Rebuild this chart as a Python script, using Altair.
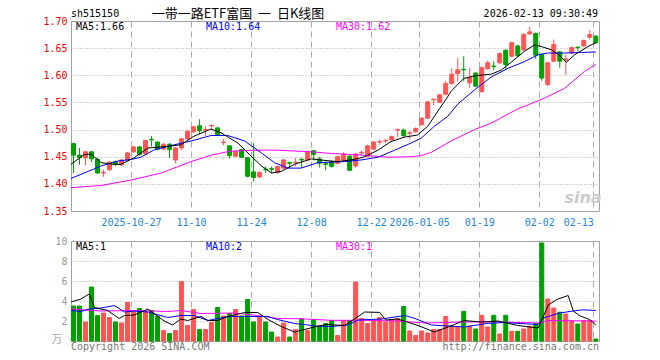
import altair as alt
import pandas as pd

# ---------------- data ----------------
opens = [1.474,1.453,1.448,1.459,1.445,1.420,1.426,1.441,1.435,1.444,
 1.459,1.468,1.455,1.482,1.477,1.464,1.473,1.444,1.466,1.483,
 1.496,1.507,1.499,1.507,1.503,1.476,1.470,1.451,1.463,1.448,
 1.422,1.413,1.427,1.428,1.421,1.429,1.439,1.439,1.445,1.444,
 1.461,1.446,1.437,1.441,1.438,1.444,1.451,1.433,1.457,1.451,
 1.464,1.477,1.479,1.481,1.499,1.499,1.493,1.496,1.509,1.521,
 1.555,1.550,1.565,1.585,1.603,1.611,1.586,1.604,1.570,1.612,
 1.617,1.623,1.646,1.635,1.654,1.647,1.676,1.677,1.638,1.583,
 1.626,1.643,1.628,1.641,1.652,1.654,1.670,1.672]
highs = [1.476,1.466,1.461,1.460,1.448,1.426,1.442,1.443,1.446,1.459,
 1.470,1.470,1.481,1.488,1.478,1.475,1.475,1.468,1.485,1.499,
 1.507,1.519,1.506,1.508,1.505,1.483,1.471,1.462,1.464,1.449,
 1.475,1.423,1.432,1.432,1.434,1.446,1.441,1.448,1.448,1.461,
 1.462,1.450,1.441,1.443,1.452,1.458,1.453,1.457,1.462,1.472,
 1.479,1.482,1.483,1.489,1.502,1.502,1.497,1.504,1.523,1.553,
 1.556,1.566,1.590,1.613,1.632,1.635,1.614,1.606,1.616,1.627,
 1.626,1.642,1.648,1.662,1.656,1.678,1.689,1.679,1.640,1.625,
 1.666,1.645,1.638,1.653,1.652,1.666,1.683,1.674]
lows = [1.420,1.435,1.434,1.440,1.418,1.413,1.424,1.433,1.433,1.443,
 1.457,1.452,1.454,1.469,1.462,1.462,1.448,1.438,1.462,1.481,
 1.494,1.491,1.488,1.500,1.489,1.471,1.447,1.449,1.448,1.412,
 1.405,1.410,1.420,1.419,1.418,1.427,1.429,1.432,1.429,1.443,
 1.443,1.430,1.425,1.430,1.436,1.442,1.424,1.429,1.453,1.449,
 1.462,1.472,1.475,1.480,1.486,1.486,1.482,1.494,1.507,1.519,
 1.545,1.549,1.563,1.583,1.589,1.589,1.577,1.578,1.568,1.610,
 1.609,1.621,1.610,1.633,1.634,1.645,1.675,1.630,1.590,1.580,
 1.624,1.614,1.601,1.639,1.644,1.652,1.666,1.658]
closes = [1.453,1.448,1.459,1.446,1.420,1.421,1.440,1.436,1.444,1.457,
 1.468,1.454,1.480,1.481,1.464,1.473,1.463,1.466,1.483,1.497,
 1.505,1.498,1.500,1.508,1.491,1.477,1.452,1.460,1.449,1.414,
 1.412,1.421,1.426,1.427,1.432,1.444,1.438,1.440,1.444,1.459,
 1.454,1.438,1.436,1.432,1.450,1.455,1.425,1.455,1.458,1.470,
 1.477,1.478,1.480,1.487,1.500,1.489,1.494,1.502,1.521,1.551,
 1.556,1.564,1.585,1.602,1.610,1.610,1.596,1.580,1.614,1.623,
 1.616,1.640,1.620,1.660,1.636,1.675,1.680,1.637,1.595,1.623,
 1.657,1.626,1.630,1.651,1.651,1.664,1.675,1.660]
vols = [3.5,3.5,1.9,5.4,2.55,2.8,2.35,1.9,1.8,3.85,
 3.05,3.25,2.95,3.05,2.45,1.05,0.75,1.05,5.95,1.55,
 3.15,1.15,1.15,1.85,3.35,2.5,2.75,3.15,2.5,4.15,
 1.9,2.45,1.9,0.9,0.4,1.8,0.4,1.15,2.2,1.05,
 2.15,1.5,1.75,2.05,0.55,2.05,2.05,5.9,2.25,1.75,
 2.05,2.35,1.9,2.15,2.25,3.45,1.0,0.55,1.0,0.8,
 1.15,1.15,2.45,1.5,1.45,2.97,1.5,1.2,2.57,1.4,
 2.57,0.7,2.57,0.97,0.97,1.2,1.47,1.74,9.8,4.2,
 3.3,2.88,2.7,2.0,1.7,2.05,2.05,0.2]

# moving-average lines (position index, value)
ma5_x = [-0.42,1.8,2.9,4.6,6.8,7.9,10.1,12.4,15.7,17.9,20.1,22.9,24.6,27.4,29.6,31.3,33.0,34.6,36.8,39.6,41.2,42.9,44.0,46.8,48.5,50.7,52.9,55.1,57.3,59.0,61.0,62.0,63.0,64.0,65.0,66.8,69.6,71.3,73.0,75.1,76.8,77.9,79.6,80.8,82.1,83.5,85.7,87.0]
ma5_y = [1.436,1.454,1.455,1.439,1.436,1.436,1.448,1.466,1.469,1.472,1.488,1.501,1.494,1.475,1.451,1.433,1.420,1.423,1.436,1.446,1.444,1.442,1.441,1.445,1.450,1.462,1.478,1.486,1.490,1.506,1.539,1.555,1.572,1.583,1.594,1.599,1.602,1.610,1.625,1.644,1.656,1.653,1.647,1.638,1.624,1.638,1.653,1.660]
ma10_x = [-0.42,1.8,4.6,7.4,9.6,11.2,13.5,16.8,19.6,22.9,25.7,28.5,31.3,33.5,35.7,37.9,40.7,42.9,45.1,47.9,50.7,53.5,56.2,57.9,60.1,62.4,64.0,66.8,69.6,72.4,75.1,77.4,79.0,81.8,84.6,87.0]
ma10_y = [1.410,1.420,1.433,1.442,1.445,1.449,1.463,1.472,1.479,1.489,1.489,1.479,1.457,1.439,1.429,1.429,1.439,1.440,1.441,1.444,1.449,1.462,1.475,1.484,1.506,1.525,1.547,1.573,1.597,1.613,1.625,1.638,1.641,1.641,1.642,1.643]
ma30_x = [-0.42,4.6,9.6,14.6,19.6,23.0,26.0,30.0,34.0,39.6,43.0,48.0,52.4,56.2,57.9,59.6,60.7,62.9,66.8,69.6,74.0,78.5,81.8,85.1,87.0]
ma30_y = [1.393,1.397,1.407,1.420,1.441,1.453,1.460,1.462,1.462,1.459,1.456,1.453,1.449,1.450,1.452,1.458,1.465,1.479,1.500,1.512,1.538,1.558,1.576,1.607,1.620]

vma5_x = [-0.42,1.25,2.6,3.5,5.7,7.6,8.5,10.1,12.4,15.1,16.5,17.9,19.0,21.25,22.4,24.0,25.7,28.5,30.7,32.4,34.6,36.8,38.5,40.1,42.1,45.1,46.8,48.5,51.0,52.0,54.0,57.4,60.1,62.4,65.1,67.9,70.7,74.0,77.4,78.0,79.1,80.5,82.4,83.25,84.4,86.0,87.0]
vma5_y = [3.9,4.2,4.7,3.35,3.05,2.25,2.55,2.6,3.2,2.0,1.6,2.2,2.05,2.45,2.05,2.05,2.45,2.85,2.85,2.15,1.45,0.9,1.15,1.4,1.65,1.55,2.2,2.9,2.86,2.1,2.2,1.55,0.9,1.4,2.05,1.9,2.0,1.55,1.3,2.1,3.6,4.15,4.55,3.0,2.5,2.15,1.6]
vma10_x = [-0.42,1.25,2.6,4.6,6.8,8.5,10.1,12.4,15.7,17.9,20.1,22.4,25.7,28.5,32.4,34.0,36.8,38.5,40.1,42.9,45.7,47.4,51.3,55.2,56.9,59.6,65.1,68.8,71.6,74.4,77.4,78.25,81.0,83.25,84.9,87.0]
vma10_y = [3.05,2.95,3.2,3.3,3.55,2.9,3.0,2.9,2.35,2.55,2.55,2.05,2.45,2.45,2.45,2.15,1.75,1.65,1.5,1.45,1.6,2.1,2.2,2.55,2.25,1.6,1.4,1.75,1.85,1.75,1.65,2.3,2.8,3.0,3.12,3.05]
vma30_x = [-0.42,4.6,10.1,15.7,17.9,21.25,26.8,31.3,34.0,38.0,42.9,48.5,54.0,58.5,65.1,70.7,77.8,78.9,87.0]
vma30_y = [3.2,3.0,3.05,2.95,3.05,2.75,2.8,2.5,2.25,2.22,2.07,2.07,2.0,1.8,1.9,1.9,1.8,2.05,2.0]

tick_idx = [10, 20, 30, 40, 50, 58, 68, 78, 87]
tick_lab = ["2025-10-27", "11-10", "11-24", "12-08", "12-22", "2026-01-05", "01-19", "02-02", "02-13"]
price_ticks = [1.35, 1.4, 1.45, 1.5, 1.55, 1.6, 1.65, 1.7]
vol_ticks = [0, 2, 4, 6, 8, 10]

# ---------------- styles ----------------
RED = "#ff5555"
GREEN = "#00a000"
GRID = "#aaaaaa"
XLAB = "#1c86d9"
MONO = "DejaVu Sans Mono"
CJK = "Noto Sans CJK SC"
W, H1, H2 = 528, 190, 100

df = pd.DataFrame({"i": list(range(len(opens))), "open": opens, "high": highs,
                   "low": lows, "close": closes, "vol": vols})
one = pd.DataFrame({"k": [0]})

xs = alt.Scale(domain=[-0.4167, 87.5333], nice=False, zero=False)
ys_top = alt.Scale(domain=[1.35, 1.70], nice=False, zero=False)
ys_vol = alt.Scale(domain=[0, 10], nice=False, zero=False)

tick_pos = [t - 0.4167 for t in tick_idx]
expr = ""
for t, lab in zip(tick_idx, tick_lab):
    expr += f"round(datum.value + 0.42) == {t} ? '{lab}' : "
expr += "''"

ax_x_top = alt.Axis(values=tick_pos, labelExpr=expr, grid=True, gridColor=GRID,
                    gridDash=[6, 4], ticks=False, domain=False, labelColor=XLAB,
                    labelFont=MONO, labelFontSize=10, labelPadding=6, labelFlush=10,
                    labelOverlap=False, title=None)
ax_x_vol = alt.Axis(values=tick_pos, labels=False, grid=True, gridColor=GRID,
                    gridDash=[6, 4], ticks=False, domain=False, title=None)
ax_y_top = alt.Axis(values=price_ticks, format=".2f", grid=True, gridColor=GRID,
                    gridDash=[1, 2], ticks=False, domain=False, labelColor="#ff0000",
                    labelFont=MONO, labelFontSize=10, labelPadding=4, title=None)
ax_y_vol = alt.Axis(values=vol_ticks, labelExpr="datum.value == 0 ? '' : datum.label",
                    grid=True, gridColor=GRID, gridDash=[1, 2], ticks=False, domain=False,
                    labelColor="#999999", labelFont=MONO, labelFontSize=10,
                    labelPadding=4, title=None)

COL = alt.condition("datum.close >= datum.open", alt.value(RED), alt.value(GREEN))


def txt(s, x, y, color, size=10, font=MONO, align="left", **kw):
    return alt.Chart(one).mark_text(text=s, align=align, baseline="middle", color=color,
                                    fontSize=size, font=font, **kw).encode(
        x=alt.value(x), y=alt.value(y))


def line(xv, yv, color, ax_x, ax_y, ysc):
    d = pd.DataFrame({"x": xv, "y": yv})
    return alt.Chart(d).mark_line(color=color, strokeWidth=1).encode(
        x=alt.X("x:Q", scale=xs, axis=ax_x), y=alt.Y("y:Q", scale=ysc, axis=ax_y))


base = alt.Chart(df)

wicks = base.mark_rule(strokeWidth=1).encode(
    x=alt.X("i:Q", scale=xs, axis=ax_x_top),
    y=alt.Y("low:Q", scale=ys_top, axis=ax_y_top), y2="high:Q", color=COL)
bodies = base.transform_calculate(lo="datum.i - 0.333", hi="datum.i + 0.333").mark_rect(
    strokeWidth=1).encode(
    x=alt.X("lo:Q", scale=xs, axis=ax_x_top), x2="hi:Q",
    y=alt.Y("open:Q", scale=ys_top, axis=ax_y_top), y2="close:Q", fill=COL, stroke=COL)

top = alt.layer(
    wicks, bodies,
    line(ma30_x, ma30_y, "#ff00ff", ax_x_top, ax_y_top, ys_top),
    line(ma10_x, ma10_y, "#0000ff", ax_x_top, ax_y_top, ys_top),
    line(ma5_x, ma5_y, "#000000", ax_x_top, ax_y_top, ys_top),
    txt("MA5:1.66", 5, 6, "#000000"),
    txt("MA10:1.64", 135, 6, "#0000ff"),
    txt("MA30:1.62", 265, 6, "#ff00ff"),
    txt("sh515150", 0, -7, "#000000"),
    txt("一带一路ETF富国\u00a0\u00a0一\u00a0\u00a0日K线图", 167, -7, "#000000", size=13,
        font=CJK, align="center"),
    txt("2026-02-13 09:30:49", 527, -7, "#000000", align="right"),
    txt("sina", 512, 177, "#cccccc", size=16, font="DejaVu Sans", align="center",
        fontStyle="italic", fontWeight="bold"),
    alt.Chart(one).mark_rule(color="white", strokeWidth=1).encode(
        x=alt.value(-69.5), x2=alt.value(0), y=alt.value(-19.5)),
).properties(width=W, height=H1)

vbars = base.transform_calculate(lo="datum.i - 0.333", hi="datum.i + 0.333", z="0").mark_rect(
    strokeWidth=1).encode(
    x=alt.X("lo:Q", scale=xs, axis=ax_x_vol), x2="hi:Q",
    y=alt.Y("vol:Q", scale=ys_vol, axis=ax_y_vol), y2="z:Q", fill=COL, stroke=COL)

bottom = alt.layer(
    vbars,
    line(vma30_x, vma30_y, "#ff00ff", ax_x_vol, ax_y_vol, ys_vol),
    line(vma10_x, vma10_y, "#0000ff", ax_x_vol, ax_y_vol, ys_vol),
    line(vma5_x, vma5_y, "#000000", ax_x_vol, ax_y_vol, ys_vol),
    txt("MA5:1", 5, 6, "#000000"),
    txt("MA10:2", 135, 6, "#0000ff"),
    txt("MA30:1", 265, 6, "#ff00ff"),
    txt("万", -14, 99, "#aaaaaa", size=11, font=CJK, align="center"),
    txt("Copyright 2026 SINA.COM", 0, 106, "#777777"),
    txt("http://finance.sina.com.cn", 528, 106, "#777777", align="right"),
).properties(width=W, height=H2)

chart = alt.vconcat(top, bottom, spacing=30, bounds="flush").properties(
    padding=0).configure_view(stroke="#a0a0a0", strokeWidth=1)

chart.save("out.html", embed_options={"renderer": "svg", "actions": False})
